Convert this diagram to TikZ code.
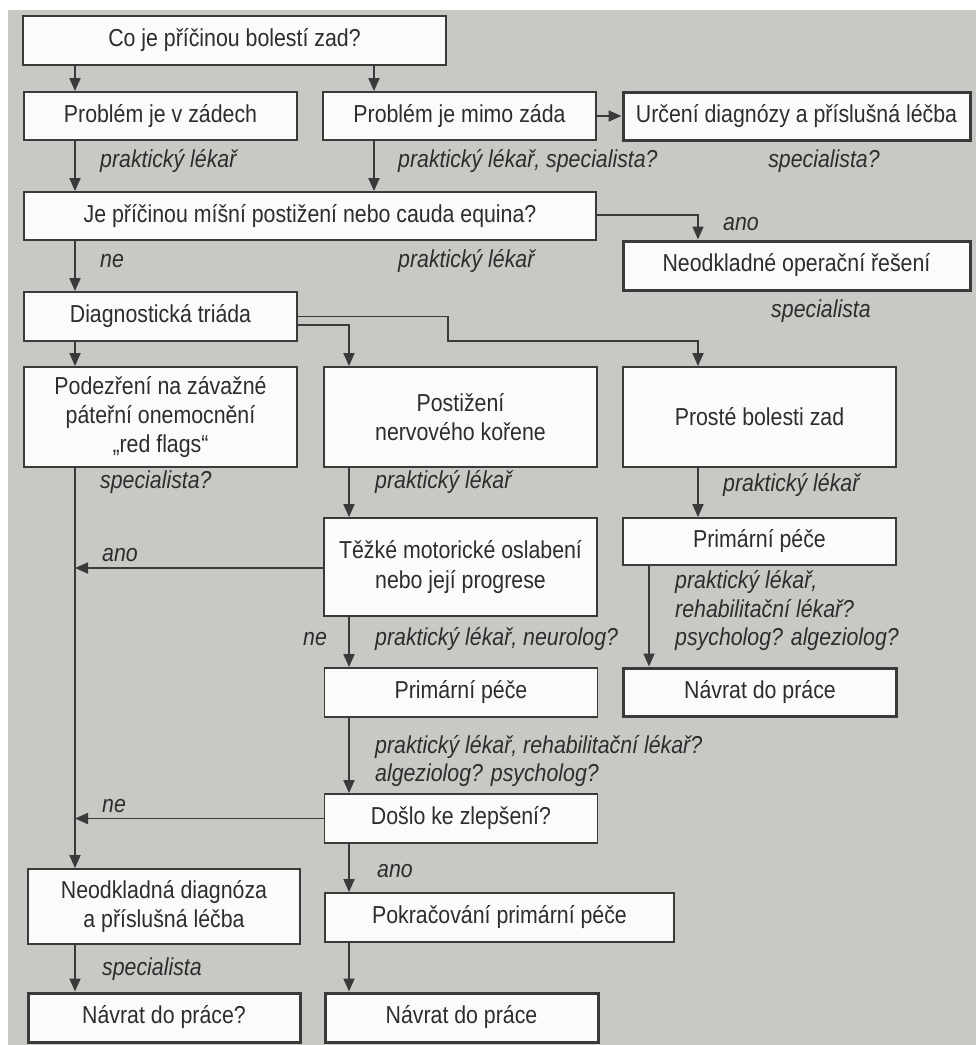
\documentclass[tikz,border=0pt]{standalone}
\usepackage{fontspec}
\setmainfont{Liberation Sans}[FakeStretch=0.87]
\usetikzlibrary{arrows.meta}
\definecolor{bg}{RGB}{201,200,197}
\definecolor{linec}{RGB}{58,58,58}
\definecolor{textc}{RGB}{45,45,45}
\definecolor{boxfill}{RGB}{251,251,250}
\begin{document}
\begin{tikzpicture}[x=1pt,y=-1pt,
  font=\fontsize{24.5}{29.4}\selectfont,
  box/.style={draw=linec, line width=1.8pt, fill=boxfill, text=textc, align=center, inner sep=0pt},
  endbox/.style={box, line width=3pt},
  lab/.style={text=textc, font=\fontsize{24.5}{29.4}\selectfont\itshape, inner sep=0pt},
  arr/.style={draw=linec, line width=1.8pt, -{Triangle[length=13pt,width=11pt]}}]
\useasboundingbox (0,0) rectangle (976,1045);
\fill[white] (0,0) rectangle (976,1045);
\fill[bg] (8,10) rectangle (976,1045);

% boxes
\node[box, minimum width=423pt, minimum height=49pt] (b1) at (234.5,40.5) {Co je příčinou bolestí zad?};
\node[box, minimum width=273pt, minimum height=48pt] (b2a) at (160.5,116) {Problém je v zádech};
\node[box, minimum width=273pt, minimum height=48pt] (b2b) at (459.5,116) {Problém je mimo záda};
\node[endbox, minimum width=347pt, minimum height=48pt] (b2c) at (796.5,116) {Určení diagnózy a příslušná léčba};
\node[box, minimum width=572pt, minimum height=48pt] (b3) at (310,216) {Je příčinou míšní postižení nebo cauda equina?};
\node[endbox, minimum width=347pt, minimum height=49pt] (b3r) at (796.5,265.5) {Neodkladné operační řešení};
\node[box, minimum width=273pt, minimum height=49pt] (b4) at (160.5,316.5) {Diagnostická triáda};
\node[box, minimum width=273pt, minimum height=100pt] (b5a) at (160.5,417) {Podezření na závažné\\páteřní onemocnění\\„red flags“};
\node[box, minimum width=273pt, minimum height=100pt] (b5b) at (460.5,417) {Postižení\\nervového kořene};
\node[box, minimum width=273pt, minimum height=100pt] (b5c) at (759.5,417) {Prosté bolesti zad};
\node[box, minimum width=273pt, minimum height=98pt] (b6b) at (460.5,567) {Těžké motorické oslabení\\nebo její progrese};
\node[box, minimum width=273pt, minimum height=47pt] (b6c) at (759.5,541.5) {Primární péče};
\node[endbox, minimum width=273pt, minimum height=48pt] (b7c) at (760,692) {Návrat do práce};
\node[box, minimum width=273pt, minimum height=49pt] (b7b) at (461,692.5) {Primární péče};
\node[box, minimum width=273pt, minimum height=49pt] (b8b) at (461,818.5) {Došlo ke zlepšení?};
\node[box, minimum width=349pt, minimum height=49pt] (b9b) at (499.5,917.5) {Pokračování primární péče};
\node[box, minimum width=272pt, minimum height=75pt] (b9a) at (164,906.5) {Neodkladná diagnóza\\a příslušná léčba};
\node[endbox, minimum width=272pt, minimum height=49pt] (b10a) at (164,1017.5) {Návrat do práce?};
\node[endbox, minimum width=273pt, minimum height=49pt] (b10b) at (461.5,1017.5) {Návrat do práce};

% column coordinates
\coordinate (xL) at (75,0);
\coordinate (xM1) at (374,0);
\coordinate (xM) at (349,0);
\coordinate (xR) at (698,0);
\coordinate (xR2) at (649,0);
\coordinate (k1) at (448,341);

% connectors
\draw[arr] (b1.south -| xL) -- (b2a.north -| xL);
\draw[arr] (b1.south -| xM1) -- (b2b.north -| xM1);
\draw[arr] (b2b.east) -- (b2c.west);
\draw[arr] (b2a.south -| xL) -- (b3.north -| xL);
\draw[arr] (b2b.south -| xM1) -- (b3.north -| xM1);
\draw[arr] ([yshift=1pt]b3.east) -| (b3r.north -| xR);
\draw[arr] (b3.south -| xL) -- (b4.north -| xL);
\draw[arr] (b4.south -| xL) -- (b5a.north -| xL);
\draw[arr] ([yshift=-8.5pt]b4.east) -| (b5b.north -| xM);
\draw[arr] (b4.east) -| (k1) -| (b5c.north -| xR);
\draw[arr] (b5a.south -| xL) -- (b9a.north -| xL);
\draw[arr] (b5b.south -| xM) -- (b6b.north -| xM);
\draw[arr] (b5c.south -| xR) -- (b6c.north -| xR);
\draw[arr] ([yshift=-1pt]b6b.west) -- ([yshift=-1pt]b6b.west -| xL);
\draw[arr] (b6b.south -| xM) -- (b7b.north -| xM);
\draw[arr] (b6c.south -| xR2) -- (b7c.north -| xR2);
\draw[arr] (b7b.south -| xM) -- (b8b.north -| xM);
\draw[arr] (b8b.west) -- (b8b.west -| xL);
\draw[arr] (b8b.south -| xM) -- (b9b.north -| xM);
\draw[arr] (b9b.south -| xM) -- (b10b.north -| xM);
\draw[arr] (b9a.south -| xL) -- (b10a.north -| xL);

% labels
\node[lab, anchor=base west] (l1) at (100,167) {praktický lékař};
\node[lab, anchor=base west] (l2) at (398,167) {praktický lékař, specialista?};
\node[lab, anchor=base] (l3) at (824,167) {specialista?};
\node[lab, anchor=base west] (l4) at (723,230) {ano};
\node[lab, anchor=base west] (l5) at (100,267) {ne};
\node[lab, anchor=base west] (l6) at (398,267) {praktický lékař};
\node[lab, anchor=base] (l7) at (821,317) {specialista};
\node[lab, anchor=base west] (l8) at (100,488) {specialista?};
\node[lab, anchor=base west] (l9) at (375,488) {praktický lékař};
\node[lab, anchor=base west] (l10) at (723,491) {praktický lékař};
\node[lab, anchor=base west] (l11) at (102,561) {ano};
\node[lab, anchor=base west] (l12a) at (675,588) {praktický lékař,};
\node[lab, anchor=base west] (l12b) at (675,617) {rehabilitační lékař?};
\node[lab, anchor=base west] (l12c) at (675,645) {psycholog? algeziolog?};
\node[lab, anchor=base west] (l13) at (303,645) {ne};
\node[lab, anchor=base west] (l14) at (375,645) {praktický lékař, neurolog?};
\node[lab, anchor=base west] (l15a) at (375,753) {praktický lékař, rehabilitační lékař?};
\node[lab, anchor=base west] (l15b) at (375,781) {algeziolog? psycholog?};
\node[lab, anchor=base west] (l16) at (102,812) {ne};
\node[lab, anchor=base west] (l17) at (377,877) {ano};
\node[lab, anchor=base west] (l18) at (102,975) {specialista};
\end{tikzpicture}
\end{document}
